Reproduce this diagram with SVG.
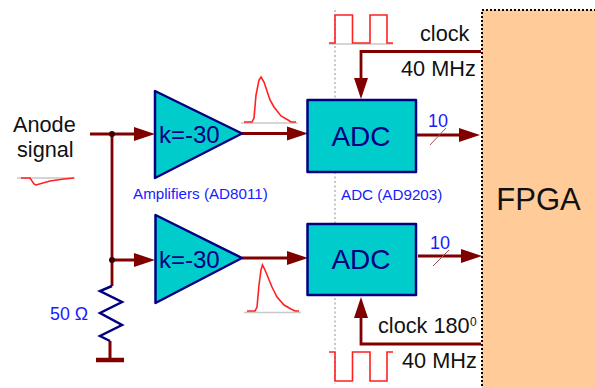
<svg xmlns="http://www.w3.org/2000/svg" width="595" height="388" viewBox="0 0 595 388">
<style>
text{font-family:"Liberation Sans",Arial,sans-serif}
.w{fill:none;stroke:#800000;stroke-width:2.8}
.blk{fill:#111;font-size:21.7px}
.blue{fill:#1a1aff;font-size:15.2px}
.cy{fill:#00cccc;stroke:#000080;stroke-width:2.5;stroke-linejoin:round}
.nv{fill:#000080}
.red{fill:none;stroke:#ff2020;stroke-width:1.6}
.gr{fill:none;stroke:#c8c8c8;stroke-width:1.5}
.ah{fill:#800000}
</style>
<defs>
<path id="ar" class="ah" d="M0 0L-21-7V7Z"/>
</defs>
<g id="guides">
<path d="M335 10V384" fill="none" stroke="#aaa" stroke-width="1.3" stroke-dasharray="2 2.5"/>
</g>
<g id="fpga">
<rect x="482" y="10" width="120" height="390" fill="#ffcc99" stroke="#000" stroke-width="2" stroke-dasharray="2 2"/>
<text x="538.500" y="210" text-anchor="middle" style="font-size:31px" fill="#111">FPGA</text>
</g>
<g id="connectors">
<path class="w" d="M90 134H136M112 134V286M112 260H136"/>
<path class="w" d="M242 133.500H288M242 258H288"/>
<path class="w" d="M416 135H461M418 256H463"/>
<path class="w" d="M481 51.500H361V80M481 344H361V316"/>
<circle cx="112" cy="134" r="3" fill="#400000"/>
<circle cx="112" cy="260" r="3" fill="#400000"/>
<use href="#ar" x="155" y="134"/>
<use href="#ar" x="155" y="260"/>
<use href="#ar" x="308" y="133.500"/>
<use href="#ar" x="308" y="258"/>
<use href="#ar" x="480" y="135"/>
<use href="#ar" x="482" y="256"/>
<use href="#ar" transform="translate(361 99) rotate(90)"/>
<use href="#ar" transform="translate(361 297) rotate(-90)"/>
<path d="M430 145L446 128M433 266L449 250" fill="none" stroke="#a05050" stroke-width="1"/>
</g>
<g id="amp1">
<path class="cy" d="M155 91V178L242 133.500Z"/>
<text class="nv" x="159" y="143" style="font-size:24px">k=-30</text>
</g>
<g id="amp2">
<path class="cy" d="M155.500 215V303L242 258Z"/>
<text class="nv" x="159" y="268" style="font-size:24px">k=-30</text>
</g>
<g id="adc1">
<rect class="cy" x="307.500" y="100" width="108.500" height="72"/>
<text class="nv" x="361" y="146" text-anchor="middle" style="font-size:28px">ADC</text>
</g>
<g id="adc2">
<rect class="cy" x="307.500" y="224" width="108.500" height="71"/>
<text class="nv" x="361" y="269" text-anchor="middle" style="font-size:28px">ADC</text>
</g>
<g id="resistor">
<path d="M112 286L100 291L122 302L100 313L122 325L100 336L110 341" fill="none" stroke="#000080" stroke-width="2.500"/>
<path d="M110 341V360" fill="none" stroke="#800000" stroke-width="3"/>
<path d="M96 360H124" fill="none" stroke="#800000" stroke-width="4.500"/>
<text class="blue" x="50" y="320" style="font-size:17.800px">50 Ω</text>
</g>
<g id="labels">
<text class="blk" x="13" y="132">Anode</text>
<text class="blk" x="17" y="157">signal</text>
<text class="blue" x="133" y="199">Amplifiers (AD8011)</text>
<text class="blue" x="341" y="200">ADC (AD9203)</text>
<text class="blue" x="438" y="127" text-anchor="middle" style="font-size:18px">10</text>
<text class="blue" x="440" y="249" text-anchor="middle" style="font-size:18px">10</text>
<text class="blk" x="420" y="41">clock</text>
<text class="blk" x="401" y="76">40 MHz</text>
<text class="blk" x="378" y="333">clock 180</text>
<text class="blk" x="470" y="326" style="font-size:12px">0</text>
<text class="blk" x="402" y="368">40 MHz</text>
</g>
<g id="pulses">
<path class="gr" d="M17 178H75M241 123H298M329 44H393M244 312.500H301"/>
<path class="red" d="M21 178H30L34 184L36 185L50 181L64 179L74 178"/>
<path class="red" d="M244 122H252L254 118L256 95L259 80L261 77L264 82L270 100L274 107L281 116L288 120L291 122H296"/>
<path class="red" d="M247 311H255L257 307L259 285L261 270L262.500 265L265 270L272 287L277 297L284 305L291 309L295 311H299"/>
<path class="red" d="M329 43H335V15H352.500V43H370V15H387V43H393"/>
<path class="red" d="M329 352H335V381H352.500V352H370V381H387V352H393"/>
</g>
</svg>
